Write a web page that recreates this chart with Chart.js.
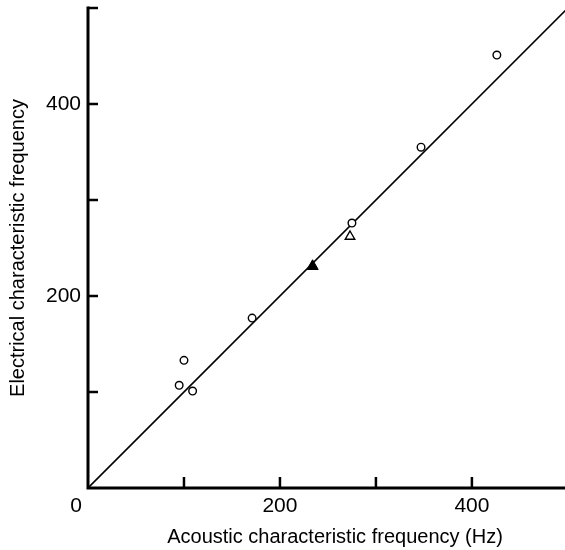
<!DOCTYPE html>
<html>
<head>
<meta charset="utf-8">
<script src="https://cdn.jsdelivr.net/npm/chart.js@4"></script>
<style>
    body { margin: 0; background: #fff; }
    canvas { display: block; }
</style>
</head>
<body>
<canvas id="myChart" width="565" height="550"></canvas>
<script>
// values
let circleX = [95, 100, 109, 171, 275, 347, 426];
let circleY = [107, 133, 101, 177, 276, 355, 451];
let openTriX = [273];
let openTriY = [262];
let filledTriX = [234];
let filledTriY = [231];
let fitX = [0, 500];
let fitY = [0, 500];
let xTicks = [0, 100, 200, 300, 400];
let yTicks = [0, 100, 200, 300, 400, 500];
let xTickLabels = ["200", "400"];
let yTickLabels = ["200", "400"];
let xTitle = "Acoustic characteristic frequency (Hz)";
let yTitle = "Electrical characteristic frequency";

let fontFamily = "'Liberation Sans', Arial, Helvetica, sans-serif";

function toPoints(xs, ys) {
    return xs.map((x, i) => ({x: x, y: ys[i]}));
}

// axes drawn by hand: thick lines, ticks pointing inward, shared "0"
const axesPlugin = {
    id: 'axesPlugin',
    afterDraw: function(chart) {
        let ctx = chart.ctx;
        let xs = chart.scales.x;
        let ys = chart.scales.y;
        let x0 = xs.getPixelForValue(0);
        let y0 = ys.getPixelForValue(0);
        ctx.save();
        ctx.strokeStyle = "#000";
        ctx.lineWidth = 3;
        ctx.lineCap = "square";
        ctx.beginPath();
        ctx.moveTo(x0, ys.getPixelForValue(ys.max));
        ctx.lineTo(x0, y0);
        ctx.lineTo(chart.width, y0);
        ctx.stroke();

        ctx.lineWidth = 2.5;
        ctx.lineCap = "butt";
        xs.ticks.forEach(t => {
            if (t.value == 0) return;
            let px = xs.getPixelForValue(t.value);
            ctx.beginPath();
            ctx.moveTo(px, y0);
            ctx.lineTo(px, y0 - 11);
            ctx.stroke();
        });
        ys.ticks.forEach(t => {
            if (t.value == 0) return;
            let py = ys.getPixelForValue(t.value);
            ctx.beginPath();
            ctx.moveTo(x0, py);
            ctx.lineTo(x0 + 10, py);
            ctx.stroke();
        });

        ctx.fillStyle = "#000";
        ctx.font = "21px " + fontFamily;
        ctx.textAlign = "center";
        ctx.textBaseline = "middle";
        ctx.fillText("0", x0 - 12, y0 + 18);

        // x title sits a bit right of the axis centre in the original
        ctx.font = "20px " + fontFamily;
        ctx.fillText(xTitle, 335, 537);
        ctx.restore();
    }
};

var ctx = document.getElementById("myChart").getContext("2d");
var chartGraph = new Chart(ctx, {
    type: 'scatter',
    data: {
        datasets: [
            {
                data: toPoints(circleX, circleY),
                pointStyle: 'circle',
                pointRadius: 3.8,
                pointBorderWidth: 1.4,
                pointBackgroundColor: "#fff",
                pointBorderColor: "#000"
            },
            {
                data: toPoints(openTriX, openTriY),
                pointStyle: 'triangle',
                pointRadius: 5.5,
                pointBorderWidth: 1.4,
                pointBackgroundColor: "#fff",
                pointBorderColor: "#000"
            },
            {
                data: toPoints(filledTriX, filledTriY),
                pointStyle: 'triangle',
                pointRadius: 6.5,
                pointBorderWidth: 1,
                pointBackgroundColor: "#000",
                pointBorderColor: "#000"
            },
            {
                type: 'line',
                data: toPoints(fitX, fitY),
                borderColor: "#000",
                borderWidth: 1.6,
                pointRadius: 0,
                fill: false
            }
        ]
    },
    options: {
        responsive: false,
        animation: false,
        layout: { autoPadding: false, padding: { top: 8, right: 0, left: 0, bottom: 0 } },
        plugins: {
            legend: { display: false },
            tooltip: { enabled: false }
        },
        scales: {
            x: {
                type: 'linear',
                min: 0,
                max: 497,
                grid: { display: false, drawTicks: false },
                border: { display: false },
                afterBuildTicks: function(scale) {
                    scale.ticks = xTicks.map(v => ({value: v}));
                },
                afterFit: function(scale) {
                    scale.height = 62;
                    scale.paddingLeft = 0;
                    scale.paddingRight = 0;
                },
                ticks: {
                    padding: 6,
                    autoSkip: false,
                    maxRotation: 0,
                    color: "#000",
                    font: { size: 21, family: fontFamily },
                    callback: function(v) {
                        return xTickLabels.indexOf(String(v)) >= 0 ? String(v) : "";
                    }
                }
            },
            y: {
                type: 'linear',
                min: 0,
                max: 500,
                grid: { display: false, drawTicks: false },
                border: { display: false },
                afterBuildTicks: function(scale) {
                    scale.ticks = yTicks.map(v => ({value: v}));
                },
                afterFit: function(scale) {
                    scale.width = 88;
                    scale.paddingTop = 0;
                    scale.paddingBottom = 0;
                },
                ticks: {
                    padding: 7,
                    autoSkip: false,
                    color: "#000",
                    font: { size: 21, family: fontFamily },
                    callback: function(v) {
                        return yTickLabels.indexOf(String(v)) >= 0 ? String(v) : "";
                    }
                },
                title: {
                    display: true,
                    text: yTitle,
                    color: "#000",
                    font: { size: 20, family: fontFamily },
                    padding: { top: 6, bottom: 0 }
                }
            }
        }
    },
    plugins: [axesPlugin]
});
</script>
</body>
</html>
